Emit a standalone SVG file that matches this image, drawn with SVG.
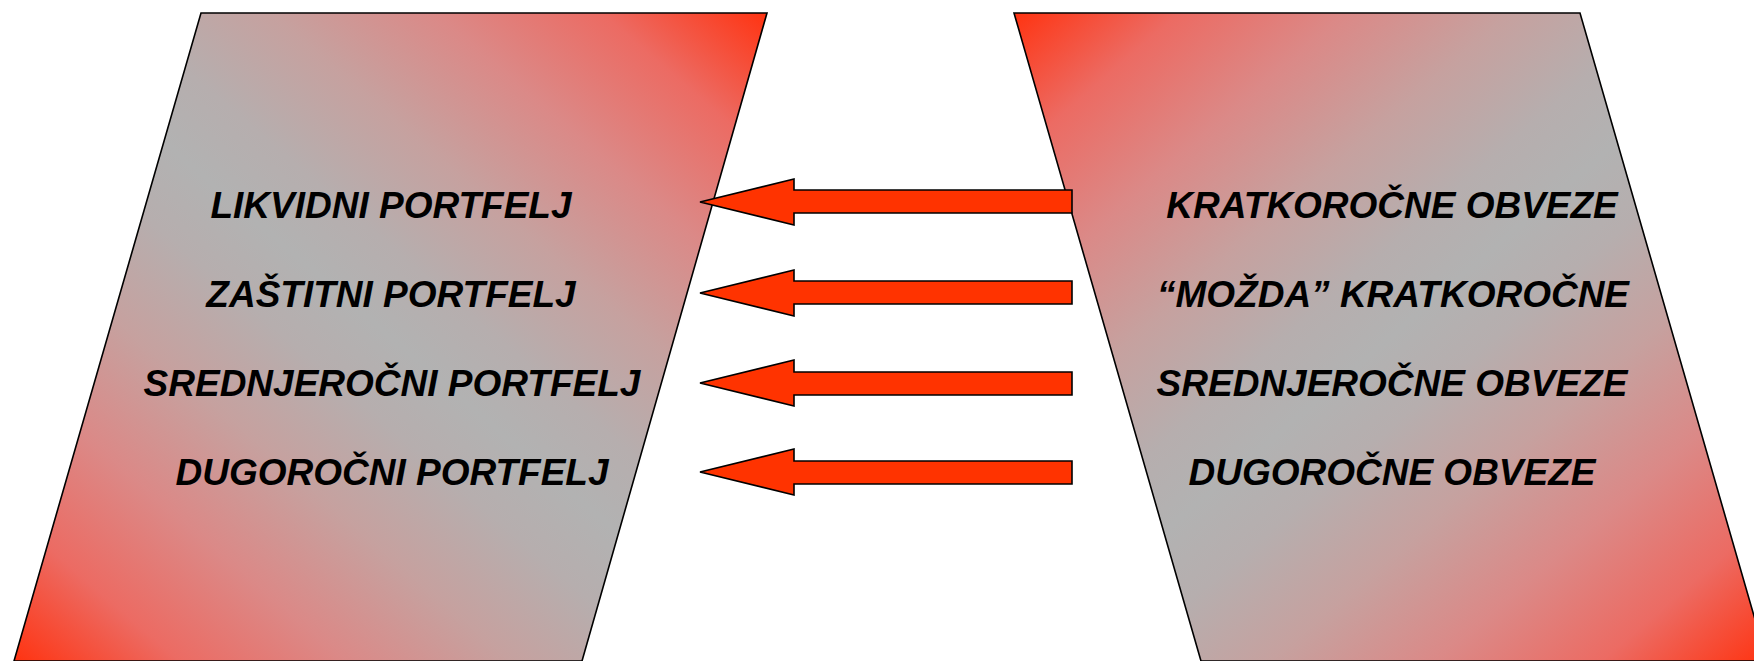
<svg xmlns="http://www.w3.org/2000/svg" width="1754" height="661" viewBox="0 0 1754 661">
<defs>
<linearGradient id="gL" x1="1" y1="0" x2="0" y2="1">
<stop offset="0" stop-color="#ff3311"/>
<stop offset="0.11" stop-color="#ec6b63"/>
<stop offset="0.22" stop-color="#db8987"/>
<stop offset="0.33" stop-color="#c6a19f"/>
<stop offset="0.43" stop-color="#b6aeae"/>
<stop offset="0.5" stop-color="#b2b2b2"/>
<stop offset="0.57" stop-color="#b6aeae"/>
<stop offset="0.67" stop-color="#c6a19f"/>
<stop offset="0.78" stop-color="#db8987"/>
<stop offset="0.89" stop-color="#ec6b63"/>
<stop offset="1" stop-color="#ff3311"/>
</linearGradient>
<linearGradient id="gR" x1="0" y1="0" x2="1" y2="1" href="#gL"/>
<style>
.shape{stroke:#000;stroke-width:1.6;stroke-linejoin:miter}
.arrow{fill:#ff3300;stroke:#000;stroke-width:1.6;stroke-linejoin:miter}
.lbl{font-family:"Liberation Sans",Arial,sans-serif;font-size:37px;font-weight:bold;font-style:italic;fill:#000;text-anchor:middle}
</style>
</defs>
<g id="left-node">
<polygon class="shape" fill="url(#gL)" points="201,13 767,13 582,661 14,661"/>
<text class="lbl" x="391" y="218">LIKVIDNI PORTFELJ</text>
<text class="lbl" x="391" y="307">ZAŠTITNI PORTFELJ</text>
<text class="lbl" x="392" y="396">SREDNJEROČNI PORTFELJ</text>
<text class="lbl" x="392" y="485">DUGOROČNI PORTFELJ</text>
</g>
<g id="right-node">
<polygon class="shape" fill="url(#gR)" points="1014,13 1580,13 1767,661 1201,661"/>
<text class="lbl" x="1392" y="218">KRATKOROČNE OBVEZE</text>
<text class="lbl" x="1393" y="307">“MOŽDA” KRATKOROČNE</text>
<text class="lbl" x="1392" y="396">SREDNJEROČNE OBVEZE</text>
<text class="lbl" x="1392" y="485">DUGOROČNE OBVEZE</text>
</g>
<g id="connectors">
<polygon class="arrow" points="700,202 794,179 794,190 1072,190 1072,213 794,213 794,225"/>
<polygon class="arrow" points="700,293 794,270 794,281 1072,281 1072,304 794,304 794,316"/>
<polygon class="arrow" points="700,383 794,360 794,372 1072,372 1072,395 794,395 794,406"/>
<polygon class="arrow" points="700,472 794,449 794,461 1072,461 1072,484 794,484 794,495"/>
</g>
</svg>
